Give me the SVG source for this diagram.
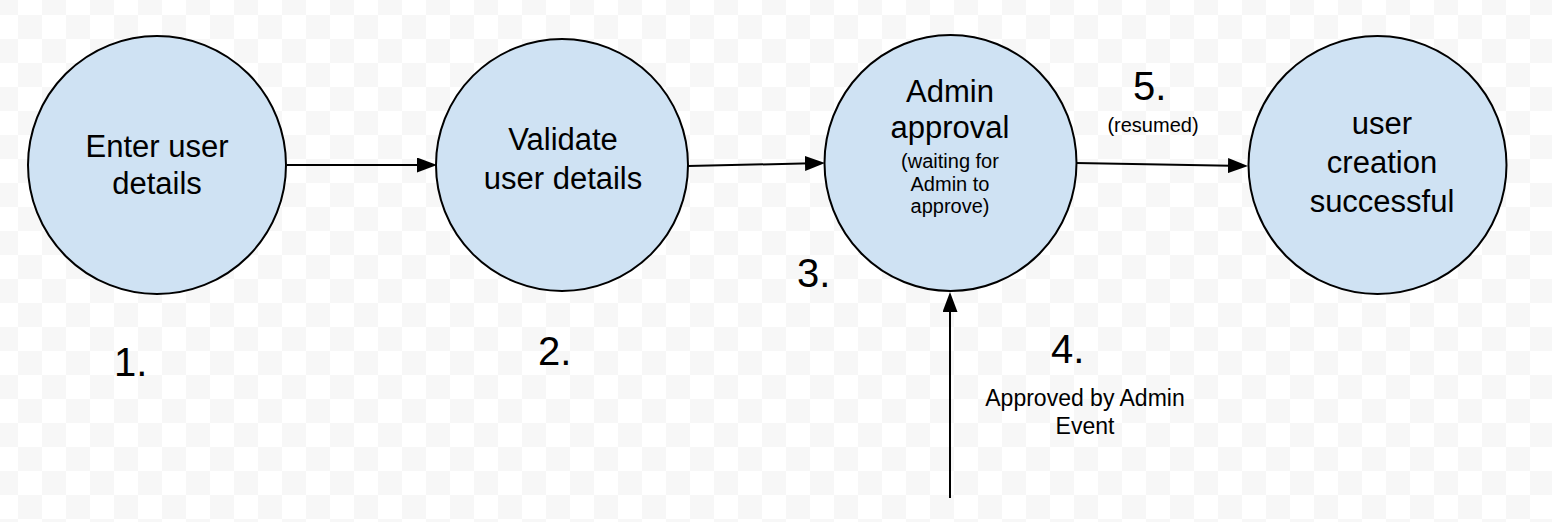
<svg xmlns="http://www.w3.org/2000/svg" width="1552" height="522" viewBox="0 0 1552 522">
  <style>
    .node { fill: #cfe2f3; stroke: #000000; stroke-width: 2; }
    .big { font-family: "Liberation Sans", Arial, sans-serif; font-size: 31px; fill: #000000; text-anchor: middle; }
    .small { font-family: "Liberation Sans", Arial, sans-serif; font-size: 20px; fill: #000000; text-anchor: middle; }
    .lbl { font-family: "Liberation Sans", Arial, sans-serif; font-size: 23px; fill: #000000; text-anchor: middle; }
    .num { font-family: "Liberation Sans", Arial, sans-serif; font-size: 40px; fill: #000000; }
    .edge { stroke: #000000; stroke-width: 2; fill: none; marker-end: url(#arrow); }
  </style>
  <defs>
    <pattern id="checker" x="18" y="15" width="48" height="48" patternUnits="userSpaceOnUse">
      <rect width="48" height="48" fill="#ffffff"/>
      <rect x="0" y="0" width="24" height="24" fill="#f7f7f7"/>
      <rect x="24" y="24" width="24" height="24" fill="#f7f7f7"/>
    </pattern>
    <marker id="arrow" markerUnits="userSpaceOnUse" markerWidth="20" markerHeight="15" refX="17" refY="7.5" orient="auto">
      <path d="M0,0 L20,7.5 L0,15 Z" fill="#000000"/>
    </marker>
  </defs>
  <rect width="1552" height="522" fill="url(#checker)"/>

  <g id="connectors">
    <line class="edge" x1="287" y1="165" x2="434" y2="165"/>
    <line class="edge" x1="688" y1="166" x2="822" y2="163.1"/>
    <line class="edge" x1="1076" y1="163" x2="1245" y2="165.9"/>
    <line class="edge" x1="950" y1="498" x2="950" y2="295"/>
  </g>

  <g id="node1">
    <circle class="node" cx="157" cy="165" r="129"/>
    <text class="big" x="157" y="157">Enter user</text>
    <text class="big" x="157" y="194">details</text>
  </g>
  <g id="node2">
    <circle class="node" cx="562" cy="165" r="126"/>
    <text class="big" x="563" y="150">Validate</text>
    <text class="big" x="563" y="189">user details</text>
  </g>
  <g id="node3">
    <ellipse class="node" cx="950.5" cy="163" rx="126" ry="128"/>
    <text class="big" x="950" y="102">Admin</text>
    <text class="big" x="950" y="138">approval</text>
    <text class="small" x="950" y="168">(waiting for</text>
    <text class="small" x="950" y="191">Admin to</text>
    <text class="small" x="950" y="213">approve)</text>
  </g>
  <g id="node4">
    <circle class="node" cx="1377.5" cy="165" r="129"/>
    <text class="big" x="1382" y="134">user</text>
    <text class="big" x="1382" y="173">creation</text>
    <text class="big" x="1382" y="212">successful</text>
  </g>

  <g id="labels">
    <text class="num" x="114" y="376">1.</text>
    <text class="num" x="538" y="365">2.</text>
    <text class="num" x="797" y="287">3.</text>
    <text class="num" x="1051" y="363">4.</text>
    <text class="num" x="1133" y="100">5.</text>
    <text class="small" x="1153" y="132">(resumed)</text>
    <text class="lbl" x="1085" y="406">Approved by Admin</text>
    <text class="lbl" x="1085" y="434">Event</text>
  </g>
</svg>
